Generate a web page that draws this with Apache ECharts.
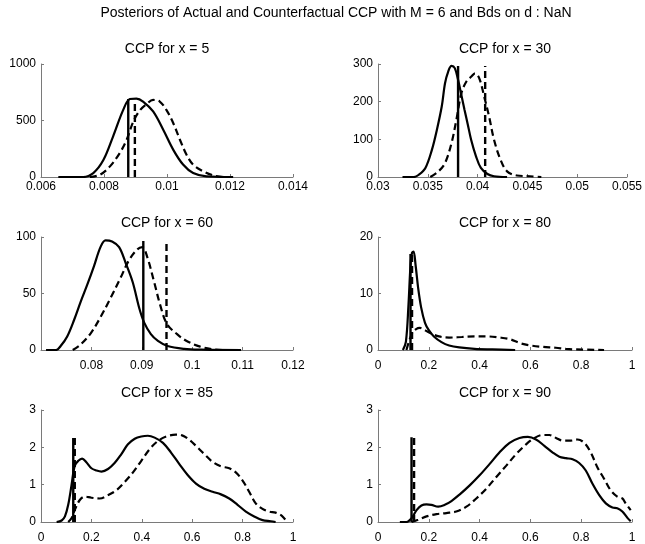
<!DOCTYPE html>
<html><head><meta charset="utf-8">
<script src="https://cdn.jsdelivr.net/npm/echarts@6/dist/echarts.min.js"></script>
<style>html,body{margin:0;padding:0;background:#fff}#c{width:645px;height:544px}</style>
</head><body><div id="c"></div><script>
// ---------- DATA ----------
const mainTitle = 'Posteriors of Actual and Counterfactual CCP with M = 6 and Bds on d : NaN';
const panelTitles = ['CCP for x = 5', 'CCP for x = 30', 'CCP for x = 60', 'CCP for x = 80', 'CCP for x = 85', 'CCP for x = 90'];

// tick labels per panel
const x5XTicks = [0.006, 0.008, 0.01, 0.012, 0.014];
const x5YTicks = [0, 500, 1000];
const x30XTicks = [0.03, 0.035, 0.04, 0.045, 0.05, 0.055];
const x30YTicks = [0, 100, 200, 300];
const x60XTicks = [0.07, 0.08, 0.09, 0.1, 0.11, 0.12];
const x60YTicks = [0, 50, 100];
const x80XTicks = [0, 0.2, 0.4, 0.6, 0.8, 1];
const x80YTicks = [0, 10, 20];
const x85XTicks = [0, 0.2, 0.4, 0.6, 0.8, 1];
const x85YTicks = [0, 1, 2, 3];
const x90XTicks = [0, 0.2, 0.4, 0.6, 0.8, 1];
const x90YTicks = [0, 1, 2, 3];

// densities: actual (solid) and counterfactual (dashed)
const x5Actual = [[0.00655,0],[0.00734,0],[0.00766,35],[0.00798,150],[0.00829,360],[0.00861,594],[0.00882,690],[0.00903,694],[0.00924,668],[0.00956,580],[0.00988,418],[0.01020,240],[0.01051,110],[0.01083,35],[0.01125,6],[0.01210,0]];
const x5Counter = [[0.00755,0],[0.00787,20],[0.00819,94],[0.00850,212],[0.00872,330],[0.00893,490],[0.00914,590],[0.00935,645],[0.00956,682],[0.00977,668],[0.00998,594],[0.01020,476],[0.01041,330],[0.01062,197],[0.01083,109],[0.01115,50],[0.01146,15],[0.01178,0]];
const x30Actual = [[0.03246,0],[0.03361,0],[0.03410,6],[0.03476,24],[0.03541,72],[0.03591,125],[0.03640,187],[0.03673,249],[0.03705,280],[0.03738,295],[0.03771,289],[0.03804,258],[0.03837,218],[0.03869,178],[0.03902,139],[0.03935,99],[0.03984,55],[0.04033,24],[0.04099,8],[0.04165,2],[0.04296,0]];
const x30Counter = [[0.03525,0],[0.03607,15],[0.03673,37],[0.03738,90],[0.03787,152],[0.03837,222],[0.03886,253],[0.03935,266],[0.03974,275],[0.04017,262],[0.04066,214],[0.04115,161],[0.04165,99],[0.04230,46],[0.04296,15],[0.04394,4],[0.04526,2],[0.04640,0]];
const x60Actual = [[0.0710,0],[0.0730,0],[0.0739,3.5],[0.0752,12],[0.0766,27],[0.0779,43],[0.0792,58],[0.0805,74],[0.0818,91],[0.0828,97],[0.0841,96],[0.0855,91],[0.0868,77],[0.0882,60],[0.0895,37],[0.0905,24],[0.0918,14],[0.0932,8],[0.0951,3.5],[0.0984,1],[0.1018,0.3],[0.1097,0]];
const x60Counter = [[0.0763,0],[0.0779,5],[0.0799,15],[0.0818,29],[0.0838,46],[0.0858,64],[0.0874,79],[0.0891,89],[0.0901,91],[0.0911,82],[0.0924,61],[0.0937,39],[0.0950,23],[0.0970,14],[0.0989,8],[0.1016,3],[0.1042,0.6],[0.1060,0]];
const x80Actual = [[0.098,0],[0.110,1.5],[0.120,8],[0.128,15],[0.134,17.2],[0.140,17.4],[0.148,15],[0.158,11],[0.170,7.5],[0.185,4.8],[0.200,3.5],[0.220,2.4],[0.250,1.4],[0.280,0.8],[0.320,0.45],[0.380,0.2],[0.450,0.1],[0.540,0]];
const x80Counter = [[0.112,0],[0.122,1.5],[0.135,3],[0.150,3.7],[0.165,3.9],[0.185,3.5],[0.210,2.9],[0.240,2.4],[0.280,2.2],[0.330,2.3],[0.380,2.4],[0.430,2.4],[0.480,2.2],[0.520,1.9],[0.560,1.2],[0.600,0.8],[0.650,0.55],[0.700,0.4],[0.740,0.2],[0.780,0.1],[0.890,0]];
const x85Actual = [[0.062,0],[0.082,0.04],[0.095,0.15],[0.108,0.46],[0.121,0.98],[0.134,1.51],[0.148,1.64],[0.163,1.70],[0.180,1.60],[0.200,1.44],[0.220,1.38],[0.240,1.35],[0.266,1.42],[0.292,1.58],[0.319,1.82],[0.345,2.08],[0.372,2.23],[0.398,2.29],[0.424,2.31],[0.451,2.26],[0.484,2.12],[0.516,1.86],[0.549,1.55],[0.582,1.26],[0.615,1.03],[0.648,0.89],[0.681,0.81],[0.714,0.74],[0.747,0.63],[0.780,0.46],[0.813,0.28],[0.846,0.15],[0.879,0.05],[0.912,0.02],[0.931,0]];
const x85Counter = [[0.108,0],[0.121,0.1],[0.134,0.32],[0.154,0.59],[0.174,0.68],[0.200,0.65],[0.233,0.63],[0.266,0.72],[0.299,0.85],[0.332,1.07],[0.365,1.33],[0.398,1.64],[0.431,1.95],[0.464,2.17],[0.497,2.29],[0.535,2.34],[0.560,2.32],[0.585,2.22],[0.615,2.04],[0.648,1.82],[0.681,1.61],[0.714,1.49],[0.747,1.44],[0.773,1.33],[0.800,1.11],[0.826,0.81],[0.852,0.50],[0.879,0.35],[0.905,0.28],[0.931,0.25],[0.951,0.19],[0.964,0.11],[0.978,0]];
const x90Actual = [[0.086,0],[0.112,0],[0.132,0.1],[0.152,0.32],[0.171,0.44],[0.191,0.47],[0.210,0.46],[0.237,0.41],[0.263,0.46],[0.289,0.56],[0.322,0.74],[0.361,0.98],[0.400,1.25],[0.439,1.55],[0.478,1.86],[0.518,2.12],[0.557,2.25],[0.590,2.28],[0.622,2.21],[0.655,2.04],[0.688,1.86],[0.714,1.75],[0.740,1.71],[0.766,1.68],[0.792,1.58],[0.818,1.38],[0.844,1.03],[0.871,0.72],[0.897,0.50],[0.923,0.39],[0.942,0.37],[0.962,0.28],[0.982,0.11],[0.995,0.02]];
const x90Counter = [[0.132,0],[0.158,0.06],[0.191,0.15],[0.230,0.21],[0.269,0.24],[0.308,0.28],[0.348,0.41],[0.387,0.63],[0.426,0.89],[0.465,1.20],[0.505,1.51],[0.544,1.82],[0.583,2.08],[0.616,2.25],[0.648,2.33],[0.675,2.33],[0.701,2.25],[0.727,2.18],[0.759,2.18],[0.786,2.21],[0.812,2.12],[0.838,1.86],[0.864,1.46],[0.890,1.16],[0.916,0.85],[0.942,0.68],[0.962,0.63],[0.975,0.50],[0.995,0.32]];

// vertical reference lines: [x, height] for actual (solid) and counterfactual (dashed)
const x5ActualMark = [0.00877, 690];
const x5CounterMark = [0.00898, 680];
const x30ActualMark = [0.03804, 295];
const x30CounterMark = [0.04076, 295];
const x60ActualMark = [0.0903, 96.5];
const x60CounterMark = [0.0949, 97];
const x80ActualMark = [0.128, 17];
const x80CounterMark = [0.134, 17];
const x85ActualMark = [0.128, 2.25];
const x85CounterMark = [0.134, 2.25];
const x90ActualMark = [0.132, 2.27];
const x90CounterMark = [0.142, 2.27];

// ---------- BUILD ----------
const panels = [
  {xt: x5XTicks, yt: x5YTicks, a: x5Actual, c: x5Counter, am: x5ActualMark, cm: x5CounterMark},
  {xt: x30XTicks, yt: x30YTicks, a: x30Actual, c: x30Counter, am: x30ActualMark, cm: x30CounterMark},
  {xt: x60XTicks, yt: x60YTicks, a: x60Actual, c: x60Counter, am: x60ActualMark, cm: x60CounterMark, hideFirst: true},
  {xt: x80XTicks, yt: x80YTicks, a: x80Actual, c: x80Counter, am: x80ActualMark, cm: x80CounterMark},
  {xt: x85XTicks, yt: x85YTicks, a: x85Actual, c: x85Counter, am: x85ActualMark, cm: x85CounterMark},
  {xt: x90XTicks, yt: x90YTicks, a: x90Actual, c: x90Counter, am: x90ActualMark, cm: x90CounterMark}
];
const colLeft = [41, 378], colWidth = [252, 254];
const rowTop = [64, 237, 410], rowHeight = [113, 113, 114];
const xLabelMargin = [4, 10, 10];
const titleY = [49, 223, 393];
const FONT = '"Liberation Sans", Arial, Helvetica, sans-serif';
const AXIS_COLOR = '#7a7a7a';

const grids = [], xAxes = [], yAxes = [], series = [], graphics = [];
const fmt = v => String(+(+v).toFixed(6));
panels.forEach((p, i) => {
  const r = Math.floor(i / 2), c = i % 2;
  grids.push({left: colLeft[c], top: rowTop[r], width: colWidth[c], height: rowHeight[r], containLabel: false});
  const xi = p.xt[1] - p.xt[0], yi = p.yt[1] - p.yt[0];
  xAxes.push({
    type: 'value', gridIndex: i, min: p.xt[0], max: p.xt[p.xt.length - 1], interval: xi,
    axisLine: {show: true, onZero: false, lineStyle: {color: AXIS_COLOR, width: 1}},
    axisTick: {show: true, inside: true, length: 3, lineStyle: {color: AXIS_COLOR}},
    splitLine: {show: false},
    axisLabel: {color: '#000', fontSize: 12, fontFamily: FONT, margin: xLabelMargin[r],
      formatter: (v) => (p.hideFirst && Math.abs(v - p.xt[0]) < 1e-9) ? '' : fmt(v)}
  });
  yAxes.push({
    type: 'value', gridIndex: i, min: p.yt[0], max: p.yt[p.yt.length - 1], interval: yi,
    axisLine: {show: true, lineStyle: {color: AXIS_COLOR, width: 1}},
    axisTick: {show: true, inside: true, length: 3, lineStyle: {color: AXIS_COLOR}},
    splitLine: {show: false},
    axisLabel: {color: '#000', fontSize: 12, fontFamily: FONT, margin: 5, formatter: fmt}
  });
  const base = {type: 'line', xAxisIndex: i, yAxisIndex: i, symbol: 'none', silent: true, animation: false, clip: true};
  series.push(Object.assign({}, base, {data: p.a, smooth: 0.35, lineStyle: {color: '#000', width: 2.2}}));
  series.push(Object.assign({}, base, {data: p.c, smooth: 0.35, lineStyle: {color: '#000', width: 2.2, type: [7, 4]}}));
  series.push(Object.assign({}, base, {data: [[p.am[0], 0], [p.am[0], p.am[1]]], lineStyle: {color: '#000', width: 2.4}}));
  series.push(Object.assign({}, base, {data: [[p.cm[0], 0], [p.cm[0], p.cm[1]]], lineStyle: {color: '#000', width: 2.4, type: [7, 4]}}));
  graphics.push({type: 'text', x: colLeft[c] + colWidth[c] / 2, y: titleY[r],
    style: {text: panelTitles[i], fill: '#000', font: '14px ' + FONT, align: 'center', verticalAlign: 'middle', textAlign: 'center', textVerticalAlign: 'middle'}});
});
graphics.push({type: 'text', x: 336, y: 13,
  style: {text: mainTitle, fill: '#000', font: '14px ' + FONT, align: 'center', verticalAlign: 'middle', textAlign: 'center', textVerticalAlign: 'middle'}});

const chart = echarts.init(document.getElementById('c'), null, {renderer: 'canvas'});
chart.setOption({
  animation: false,
  backgroundColor: '#fff',
  grid: grids, xAxis: xAxes, yAxis: yAxes, series: series, graphic: graphics
});
</script></body></html>
